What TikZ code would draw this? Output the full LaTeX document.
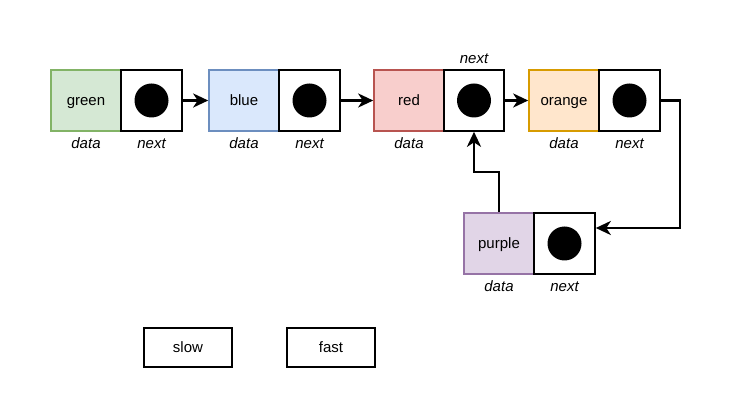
\documentclass[tikz,border=0pt]{standalone}
\usepackage{fontspec}
\setmainfont{Liberation Sans}
\usetikzlibrary{arrows.meta}
\definecolor{gfill}{HTML}{D5E8D4}\definecolor{gdraw}{HTML}{82B366}
\definecolor{bfill}{HTML}{DAE8FC}\definecolor{bdraw}{HTML}{6C8EBF}
\definecolor{rfill}{HTML}{F8CECC}\definecolor{rdraw}{HTML}{B85450}
\definecolor{ofill}{HTML}{FFE6CC}\definecolor{odraw}{HTML}{D79B00}
\definecolor{pfill}{HTML}{E1D5E7}\definecolor{pdraw}{HTML}{9673A6}
\tikzset{
  box/.style={draw, line width=1.6pt, minimum height=61pt, inner sep=0pt, text height=10.5pt, text depth=1pt, font=\fontsize{15}{18}\selectfont},
  databox/.style={box, minimum width=70pt},
  nextbox/.style={box, fill=white, draw=black, minimum width=61pt},
  dot/.style={circle, fill=black, minimum size=34pt, inner sep=0pt},
  lbl/.style={font=\fontsize{15}{18}\selectfont\itshape, inner sep=0pt, text height=10.5pt, text depth=1pt},
  btn/.style={draw, line width=1.3pt, minimum width=88pt, minimum height=39pt, inner sep=0pt, text height=10.5pt, text depth=1pt, font=\fontsize{15}{18}\selectfont},
  arr/.style={line width=2.6pt, -{Stealth[length=15pt,width=14pt,inset=4.5pt]}}
}
\begin{document}
\begin{tikzpicture}[x=1pt,y=-1pt]
\useasboundingbox (0,0) rectangle (739,419);
% row
\node[databox, fill=gfill, draw=gdraw] (gd) at (86,100.5) {green};
\node[nextbox] (gn) at (151.5,100.5) {};
\node[dot] (gc) at (gn.center) {};
\node[databox, fill=bfill, draw=bdraw] (bd) at (244,100.5) {blue};
\node[nextbox] (bn) at (309.5,100.5) {};
\node[dot] (bc) at (bn.center) {};
\node[databox, fill=rfill, draw=rdraw] (rd) at (409,100.5) {red};
\node[nextbox, minimum width=60pt] (rn) at (474,100.5) {};
\node[dot] (rc) at (rn.center) {};
\node[databox, fill=ofill, draw=odraw] (od) at (564,100.5) {orange};
\node[nextbox] (on) at (629.5,100.5) {};
\node[dot] (oc) at (on.center) {};
\node[databox, fill=pfill, draw=pdraw] (pd) at (499,243.5) {purple};
\node[nextbox] (pn) at (564.5,243.5) {};
\node[dot] (pc) at (pn.center) {};
% labels
\node[lbl] (l1) at (86,144) {data};
\node[lbl] (l2) at (151.5,144) {next};
\node[lbl] (l3) at (244,144) {data};
\node[lbl] (l4) at (309.5,144) {next};
\node[lbl] (l5) at (409,144) {data};
\node[lbl] (l6) at (474,59) {next};
\node[lbl] (l7) at (564,144) {data};
\node[lbl] (l8) at (629.5,144) {next};
\node[lbl] (l9) at (499,287) {data};
\node[lbl] (l10) at (564.5,287) {next};
% buttons
\node[btn] (slow) at (188,347.5) {slow};
\node[btn] (fast) at (331,347.5) {fast};
% connectors
\draw[arr] (gn.east) -- (bd.west);
\draw[arr] (bn.east) -- (rd.west);
\draw[arr] (rn.east) -- (od.west);
\coordinate (t1) at (680,228);
\draw[arr] (on.east) -| (t1) -- (t1 -| pn.east);
\coordinate (t2) at (474,172);
\draw[arr] (pd.north) |- (t2) -- (rn.south);
\end{tikzpicture}
\end{document}
